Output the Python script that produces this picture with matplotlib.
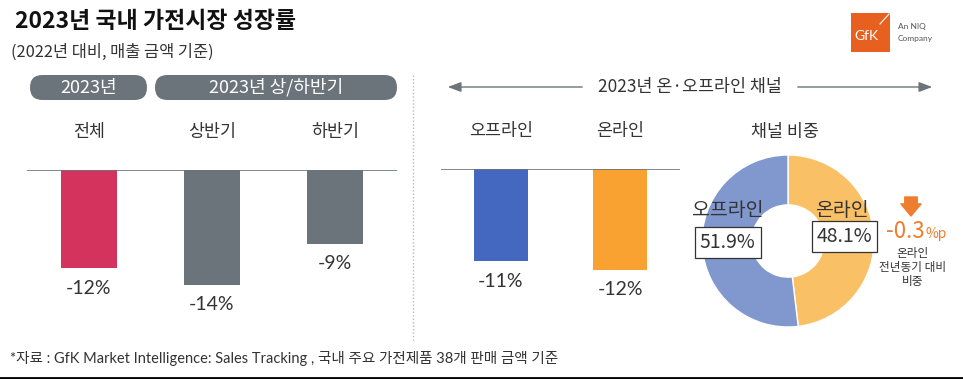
import matplotlib
matplotlib.use("Agg")
import matplotlib.pyplot as plt
from matplotlib.patches import FancyBboxPatch, Rectangle

plt.rcParams['font.family'] = ['Noto Sans CJK KR', 'DejaVu Sans']

W, H = 963, 379

# data
half_labels = ["전체", "상반기", "하반기"]
half_values = [-12, -14, -9]
half_colors = ["#D4335E", "#6B747A", "#6B747A"]

channel_labels = ["오프라인", "온라인"]
channel_values = [-11, -12]
channel_colors = ["#4467C0", "#F9A231"]

share_labels = ["온라인", "오프라인"]
share_values = [48.1, 51.9]
share_colors = ["#FAC065", "#8198CE"]
share_change = "-0.3"

NUM_FONT = ['Lato', 'Noto Sans CJK KR']
TXT = "#333333"
GRAY = "#6B747A"
ORANGE = "#EE7D2E"


def px_axes(fig, x0, y0, x1, y1):
    """add axes by pixel box (top-left origin)"""
    ax = fig.add_axes([x0 / W, 1 - y1 / H, (x1 - x0) / W, (y1 - y0) / H])
    ax.patch.set_visible(False)
    return ax


def draw_bars(ax, labels, values, colors, width):
    x = list(range(len(labels)))
    ax.bar(x, values, width=width, color=colors, zorder=2)
    ax.axhline(0, color=GRAY, lw=1.2, zorder=3)
    ax.set_xlim(-0.5, len(labels) - 0.5)
    ax.set_ylim(-16, 0)
    ax.axis('off')
    for i, (lab, v) in enumerate(zip(labels, values)):
        ax.annotate(lab, xy=(i, 0), xytext=(0, 38), textcoords='offset pixels',
                    ha='center', va='center', fontsize=12.5, color=TXT)
        ax.annotate(f"{v}%", xy=(i, v), xytext=(0, -20), textcoords='offset pixels',
                    ha='center', va='center', fontsize=14, color=TXT, family=NUM_FONT)


fig = plt.figure(figsize=(W / 100, H / 100), dpi=100)
bg = fig.add_axes([0, 0, 1, 1])
bg.set_xlim(0, W)
bg.set_ylim(H, 0)
bg.axis('off')

# titles
bg.text(15, 22, "2023년 국내 가전시장 성장률", fontsize=16.5, fontweight='bold',
        color="#111111", va='center', ha='left')
bg.text(11, 52, "(2022년 대비, 매출 금액 기준)", fontsize=11.8, color=TXT, va='center', ha='left')

# pills
for x0, x1, lab in [(30, 147, "2023년"), (155, 397, "2023년 상/하반기")]:
    bg.add_patch(FancyBboxPatch((x0, 75), x1 - x0, 25,
                                boxstyle="round,pad=0,rounding_size=12.5",
                                fc=GRAY, ec='none'))
    bg.text((x0 + x1) / 2, 87.5, lab, color='white', fontsize=13, ha='center', va='center')

# separator
bg.plot([413, 413], [75, 342], color="#BBBBBB", lw=1, ls=(0, (1, 1.5)))

# channel header with arrows
bg.text(690, 87, "2023년 온·오프라인 채널", fontsize=12.5, color=TXT, ha='center', va='center')
bg.annotate('', xy=(445, 87), xytext=(585, 87),
            arrowprops=dict(arrowstyle='-|>,head_length=0.8,head_width=0.3', color=GRAY, lw=1))
bg.annotate('', xy=(935, 87), xytext=(795, 87),
            arrowprops=dict(arrowstyle='-|>,head_length=0.8,head_width=0.3', color=GRAY, lw=1))
bg.text(785, 132, "채널 비중", fontsize=12.5, color=TXT, ha='center', va='center')

# logo
bg.add_patch(Rectangle((851, 13), 39, 39, fc="#E8601F", ec='none'))
bg.text(866, 36, "GfK", color='white', fontsize=10, ha='center', va='center', family=['Lato'])
bg.plot([880, 889], [24, 14], color='white', lw=0.8)
bg.text(898, 27, "An NIQ", fontsize=6, color="#555555", ha='left', va='center', family=['Lato'])
bg.text(898, 39, "Company", fontsize=6, color="#555555", ha='left', va='center', family=['Lato'])

# bars
ax1 = px_axes(fig, 27, 170, 397, 301)
draw_bars(ax1, half_labels, half_values, half_colors, 0.454)
ax2 = px_axes(fig, 441, 169, 680, 303.4)
draw_bars(ax2, channel_labels, channel_values, channel_colors, 0.45)

# donut
ax3 = px_axes(fig, 702, 155, 874, 327)
ax3.pie(share_values, colors=share_colors, startangle=90, counterclock=False,
        wedgeprops=dict(width=0.58, edgecolor='white', linewidth=1))
ax3.set_xlim(-1, 1)
ax3.set_ylim(-1, 1)
ax3.set_aspect('equal')
ax3.text(-0.70, 0.36, share_labels[1], fontsize=14, color=TXT, ha='center', va='center')
ax3.text(0.63, 0.36, share_labels[0], fontsize=14, color=TXT, ha='center', va='center')
box = dict(boxstyle='square,pad=0.25', fc='white', ec='#333333', lw=0.9)
ax3.text(-0.70, -0.02, f"{share_values[1]}%", fontsize=14, color=TXT, ha='center', va='center', bbox=box)
ax3.text(0.66, 0.05, f"{share_values[0]}%", fontsize=14, color=TXT, ha='center', va='center', bbox=box)

# change note
bg.annotate('', xy=(911, 216), xytext=(911, 197),
            arrowprops=dict(arrowstyle='simple,head_length=0.6,head_width=1.0,tail_width=0.62',
                            color=ORANGE, mutation_scale=14.5, shrinkA=0, shrinkB=0))
bg.text(925, 238, share_change, fontsize=16, color=ORANGE, ha='right', va='baseline')
bg.text(925, 238, "%p", fontsize=10, color=ORANGE, ha='left', va='baseline')
bg.text(913, 267, "온라인\n전년동기 대비\n비중", fontsize=8.4, color=TXT, ha='center', va='center',
        linespacing=1.1)

# footer
bg.text(10, 358, "*자료 : GfK Market Intelligence: Sales Tracking , 국내 주요 가전제품 38개 판매 금액 기준",
        fontsize=10.5, color=TXT, ha='left', va='center', family=NUM_FONT)
bg.plot([0, W], [377.5, 377.5], color='black', lw=2)

fig.savefig("out.png", dpi=100)
